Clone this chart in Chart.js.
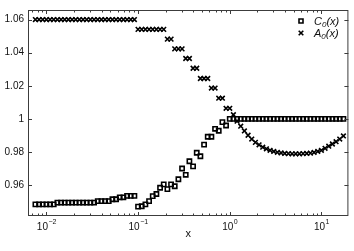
<!DOCTYPE html>
<html>
<head>
<meta charset="utf-8">
<script src="https://cdn.jsdelivr.net/npm/chart.js@4"></script>
<style>
  body { margin: 0; background: #fff; }
  #chart { display: block; }
</style>
</head>
<body>
<canvas id="chart" width="354" height="251"></canvas>
<script>
// sample points (log spaced, 25 per decade)
const xValues = [
  0.007586, 0.008318, 0.009120, 0.01, 0.010965, 0.012023, 0.013183, 0.014454, 0.015849, 0.017378,
  0.019055, 0.020893, 0.022909, 0.025119, 0.027542, 0.030200, 0.033113, 0.036308, 0.039811, 0.043652,
  0.047863, 0.052481, 0.057544, 0.063096, 0.069183, 0.075858, 0.083176, 0.091201, 0.1, 0.10965,
  0.12023, 0.13183, 0.14454, 0.15849, 0.17378, 0.19055, 0.20893, 0.22909, 0.25119, 0.27542,
  0.30200, 0.33113, 0.36308, 0.39811, 0.43652, 0.47863, 0.52481, 0.57544, 0.63096, 0.69183,
  0.75858, 0.83176, 0.91201, 1, 1.0965, 1.2023, 1.3183, 1.4454, 1.5849, 1.7378,
  1.9055, 2.0893, 2.2909, 2.5119, 2.7542, 3.0200, 3.3113, 3.6308, 3.9811, 4.3652,
  4.7863, 5.2481, 5.7544, 6.3096, 6.9183, 7.5858, 8.3176, 9.1201, 10, 10.965,
  12.023, 13.183, 14.454, 15.849, 17.378
];

const cValues = [
  0.9483, 0.9483, 0.9483, 0.9483, 0.9483, 0.9483,
  0.9494, 0.9494, 0.9494, 0.9494, 0.9494, 0.9494, 0.9494, 0.9494, 0.9494, 0.9494, 0.9494,
  0.9503, 0.9503, 0.9503, 0.9503, 0.9514, 0.9514, 0.9526, 0.9526, 0.9535, 0.9535, 0.9535,
  0.9470, 0.9472, 0.9483, 0.9503, 0.9533, 0.9546, 0.9584, 0.9604, 0.9575, 0.9604,
  0.9593, 0.9635, 0.9700, 0.9662, 0.9744, 0.9713, 0.9795, 0.9774, 0.9844, 0.9892,
  0.9892, 0.9940, 0.9928, 0.9980, 0.9960, 1.0000,
  1, 1, 1, 1, 1, 1, 1, 1, 1, 1, 1, 1, 1, 1, 1, 1,
  1, 1, 1, 1, 1, 1, 1, 1, 1, 1, 1, 1, 1, 1, 1
];

const aValues = [
  1.06, 1.06, 1.06, 1.06, 1.06, 1.06, 1.06, 1.06, 1.06, 1.06, 1.06, 1.06, 1.06, 1.06,
  1.06, 1.06, 1.06, 1.06, 1.06, 1.06, 1.06, 1.06, 1.06, 1.06, 1.06, 1.06, 1.06, 1.06,
  1.0541, 1.0541, 1.0541, 1.0541, 1.0541, 1.0541, 1.0541, 1.0541,
  1.0482, 1.0482, 1.0423, 1.0423, 1.0423, 1.0365, 1.0365, 1.0306, 1.0306,
  1.0244, 1.0244, 1.0244, 1.0186, 1.0186, 1.0125, 1.0125, 1.0064, 1.0064,
  1.0025, 0.9986, 0.9956, 0.9927, 0.9901, 0.9878, 0.9858, 0.9843, 0.9829, 0.9819,
  0.9810, 0.9803, 0.9798, 0.9794, 0.9791, 0.9790, 0.9789, 0.9789, 0.9789, 0.9790,
  0.9791, 0.9793, 0.9797, 0.9803, 0.9810, 0.9822, 0.9835, 0.9848, 0.9862, 0.9878,
  0.9897
];

const yTicks = [0.96, 0.98, 1, 1.02, 1.04, 1.06];
const xDecades = [-2, -1, 0, 1];
const seriesNames = [['C', '0', '(x)'], ['A', '0', '(x)']];

const FONT = '"Liberation Sans", Arial, sans-serif';

// box, inward ticks, x labels with exponents, legend inside the axes
const axesPlugin = {
  id: 'axesPlugin',
  afterDraw(chart) {
    const ctx = chart.ctx;
    const area = chart.chartArea;
    const xs = chart.scales.x;
    const ys = chart.scales.y;
    ctx.save();
    ctx.strokeStyle = '#3c3c3c';
    ctx.lineWidth = 1;
    ctx.strokeRect(area.left + 0.5, area.top + 0.5, area.right - area.left - 1, area.bottom - area.top - 1);

    ctx.beginPath();
    yTicks.forEach(v => {
      const py = Math.round(ys.getPixelForValue(v)) + 0.5;
      ctx.moveTo(area.left, py); ctx.lineTo(area.left + 4, py);
      ctx.moveTo(area.right, py); ctx.lineTo(area.right - 4, py);
    });
    for (let d = -3; d <= 1; d++) {
      for (let m = 1; m <= 9; m++) {
        const v = m * Math.pow(10, d);
        if (v < xs.min || v > xs.max) continue;
        const px = Math.round(xs.getPixelForValue(v)) + 0.5;
        const len = m === 1 ? 4 : 2.5;
        ctx.moveTo(px, area.bottom); ctx.lineTo(px, area.bottom - len);
        ctx.moveTo(px, area.top); ctx.lineTo(px, area.top + len);
      }
    }
    ctx.stroke();

    ctx.fillStyle = '#111';
    ctx.textBaseline = 'alphabetic';
    ctx.textAlign = 'left';
    xDecades.forEach(d => {
      const px = xs.getPixelForValue(Math.pow(10, d));
      const exp = String(d).replace('-', '\u2212');
      ctx.font = '10px ' + FONT;
      const w1 = ctx.measureText('10').width;
      ctx.font = '7px ' + FONT;
      const w2 = ctx.measureText(exp).width;
      const x0 = px - (w1 + w2) / 2;
      ctx.font = '10px ' + FONT;
      ctx.fillText('10', x0, 230);
      ctx.font = '7px ' + FONT;
      ctx.fillText(exp, x0 + w1 + 0.5, 224);
    });

    ctx.font = '11px ' + FONT;
    ctx.textAlign = 'center';
    ctx.fillText('x', (area.left + area.right) / 2, 237);

    // legend
    chart.data.datasets.forEach((ds, i) => {
      const cy = 21 + i * 12;
      const mx = 301;
      ctx.strokeStyle = '#000';
      ctx.lineWidth = ds.pointBorderWidth;
      ctx.beginPath();
      if (ds.pointStyle === 'rect') {
        ctx.rect(mx - 2, cy - 2, 4, 4);
      } else {
        ctx.moveTo(mx - 2.3, cy - 2.3); ctx.lineTo(mx + 2.3, cy + 2.3);
        ctx.moveTo(mx + 2.3, cy - 2.3); ctx.lineTo(mx - 2.3, cy + 2.3);
      }
      ctx.stroke();
      const parts = seriesNames[i];
      ctx.textAlign = 'left';
      let tx = 314;
      ctx.font = 'italic 11px ' + FONT;
      ctx.fillText(parts[0], tx, cy + 4);
      tx += ctx.measureText(parts[0]).width;
      ctx.font = 'italic 8px ' + FONT;
      ctx.fillText(parts[1], tx, cy + 6);
      tx += ctx.measureText(parts[1]).width;
      ctx.font = 'italic 11px ' + FONT;
      ctx.fillText(parts[2], tx, cy + 4);
    });
    ctx.restore();
  }
};

function makePoints(ys) {
  return xValues.map((x, i) => ({ x: x, y: ys[i] }));
}

const ctx = document.getElementById('chart').getContext('2d');
new Chart(ctx, {
  type: 'scatter',
  data: {
    datasets: [{
      label: 'C0(x)',
      data: makePoints(cValues),
      pointStyle: 'rect',
      pointRadius: 3,
      pointBorderWidth: 1.6,
      pointBorderColor: '#000',
      pointBackgroundColor: 'rgba(255,255,255,0)'
    }, {
      label: 'A0(x)',
      data: makePoints(aValues),
      pointStyle: 'crossRot',
      pointRadius: 3.3,
      pointBorderWidth: 1.6,
      pointBorderColor: '#000',
      pointBackgroundColor: '#000'
    }]
  },
  options: {
    responsive: false,
    animation: false,
    layout: { padding: { top: 3, right: 5, left: 0, bottom: 0 } },
    plugins: {
      legend: { display: false },
      tooltip: { enabled: false }
    },
    scales: {
      x: {
        type: 'logarithmic',
        min: 0.0063,
        max: 19.7,
        grid: { display: false, drawTicks: false },
        border: { display: false },
        ticks: { display: false },
        afterFit(scale) { scale.height = 35; }
      },
      y: {
        min: 0.9413,
        max: 1.0658,
        grid: { display: false, drawTicks: false },
        border: { display: false },
        afterBuildTicks(scale) { scale.ticks = yTicks.map(v => ({ value: v })); },
        ticks: {
          padding: 4,
          color: '#111',
          font: { family: FONT, size: 10 },
          callback: v => String(Number(v.toFixed(2)))
        },
        afterFit(scale) { scale.width = 28; }
      }
    }
  },
  plugins: [axesPlugin]
});
</script>
</body>
</html>
